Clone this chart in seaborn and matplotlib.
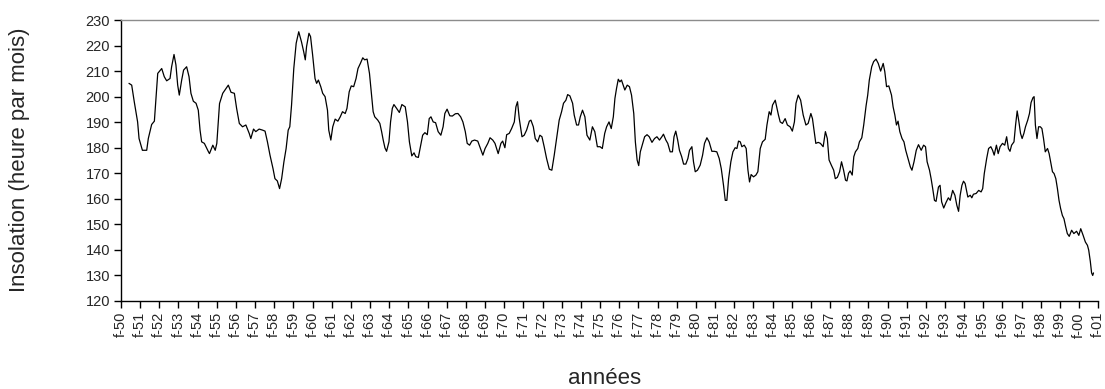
import matplotlib
matplotlib.use("Agg")
import matplotlib.pyplot as plt
import seaborn as sns
import pandas as pd

# Month offsets counted from February 1950, and the smoothed monthly sunshine (hours)
months = [
    5.0, 6.7, 8.3, 10.4, 11.3, 13.4, 16.1, 17.1, 19.2, 20.9, 23.0, 25.5, 27.1, 28.6, 30.7, 31.7,
    33.2, 34.4, 35.5, 36.5, 38.0, 39.2, 41.1, 42.6, 43.8, 45.3, 47.0, 48.4, 49.5, 50.5, 52.2, 53.6,
    54.7, 55.4, 57.5, 59.0, 60.0, 61.7, 63.7, 65.8, 67.2, 68.9, 71.0, 72.4, 74.1, 76.1, 78.2, 80.3,
    81.3, 83.0, 84.4, 86.5, 88.6, 90.2, 91.7, 93.3, 95.2, 96.4, 97.9, 99.3, 100.6, 102.0, 103.4, 104.7,
    105.7, 106.8, 108.2, 109.7, 111.3, 113.0, 114.4, 115.4, 116.2, 117.7, 118.7, 120.0, 121.5, 122.5,
    123.6, 125.1, 126.3, 127.8, 129.3, 130.1, 131.4, 132.6, 134.1, 135.8, 137.3, 138.7, 140.4, 141.5,
    142.9, 144.2, 145.7, 147.2, 148.4, 149.9, 151.4, 152.6, 154.1, 155.6, 156.8, 157.9, 158.9, 160.8,
    162.1, 163.2, 164.2, 165.3, 166.3, 167.8, 168.8, 169.9, 170.9, 172.6, 174.3, 175.9, 178.0, 179.4,
    180.6, 182.1, 183.5, 184.6, 186.2, 187.7, 188.9, 190.3, 191.8, 193.0, 194.1, 195.5, 197.0, 198.6,
    200.3, 201.7, 202.8, 204.2, 205.9, 207.5, 209.4, 211.0, 212.7, 214.1, 215.6, 216.8, 218.3, 219.7,
    221.4, 223.4, 225.1, 226.6, 228.0, 229.7, 231.1, 232.8, 234.2, 236.2, 237.9, 239.0, 240.4, 241.5,
    243.1, 244.6, 246.3, 247.3, 248.3, 249.4, 251.1, 252.5, 254.0, 255.7, 256.7, 258.2, 259.4, 260.9,
    262.3, 263.6, 265.0, 266.5, 268.2, 269.8, 271.3, 272.8, 274.4, 275.9, 277.1, 278.6, 279.7, 281.1,
    282.8, 283.8, 285.3, 286.5, 287.6, 289.0, 290.5, 291.8, 293.6, 295.2, 296.7, 298.3, 300.0, 301.4,
    302.9, 304.1, 305.6, 307.0, 308.3, 309.3, 310.3, 311.4, 312.4, 313.4, 314.5, 315.5, 317.0, 318.4,
    319.7, 321.1, 322.1, 323.2, 324.2, 325.2, 326.7, 327.9, 329.4, 330.8, 332.5, 334.1, 335.6, 337.2,
    338.7, 339.7, 341.2, 342.4, 343.9, 345.3, 346.3, 347.4, 348.6, 349.7, 351.1, 352.3, 353.7, 355.0,
    356.0, 357.5, 358.5, 359.6, 361.0, 362.7, 364.2, 365.4, 366.9, 368.3, 370.0, 371.5, 373.1, 374.6,
    375.9, 377.3, 378.4, 379.4, 380.5, 381.9, 383.2, 384.6, 385.7, 386.7, 387.8, 388.8, 390.3, 391.5,
    392.6, 393.6, 394.6, 396.1, 397.6, 398.8, 400.3, 401.7, 403.4, 404.5, 405.9, 407.0, 408.0, 409.7,
    411.7, 412.8, 414.2, 415.9, 417.3, 419.0, 420.4, 421.7, 422.7, 424.1, 425.6, 427.2, 428.9, 430.3,
    432.0, 433.0, 434.1, 435.1, 436.6, 438.0, 439.7, 441.1, 442.3, 443.4, 444.8, 446.3, 447.3, 448.6,
    450.0, 451.2, 452.5, 453.7, 454.6, 455.6, 456.6, 457.9, 458.9, 459.9, 461.4, 462.4, 463.9, 465.1,
    466.6, 467.6, 468.6, 470.1, 471.3, 472.8, 474.2, 475.7, 477.3, 478.3, 479.4, 480.8, 482.5, 483.5,
    484.6, 485.6, 486.6, 487.7, 489.1, 490.3, 491.4, 492.8, 494.3, 495.3, 496.6, 498.0, 499.4, 501.1,
    502.6, 503.8, 504.8, 506.3, 507.3, 508.3, 509.4, 510.4, 511.9, 512.9, 513.9, 515.2, 516.6, 518.1,
    519.3, 520.8, 522.2, 523.4, 524.5, 525.5, 526.6, 527.6, 528.6, 530.3, 531.8, 532.8, 533.8, 535.5,
    537.1, 538.6, 539.6, 540.6, 542.1, 543.3, 544.7, 545.8, 546.8, 548.2, 549.3, 550.5, 552.0, 553.4,
    554.6, 555.7, 556.7, 557.7, 559.2, 560.2, 561.2, 562.3, 563.3, 564.3, 565.4, 566.4, 567.8, 568.9,
    569.9, 571.1, 571.8, 572.6, 573.6, 574.6, 575.7, 576.7, 577.7, 578.8, 580.2, 581.2, 582.3, 583.3,
    584.3, 585.4, 586.4, 587.4, 588.4, 589.5, 590.5, 591.6, 592.6, 593.8, 595.3, 596.7, 598.4, 599.8,
    601.0, 602.5, 603.9, 605.2, 606.0, 607.0, 607.8, 608.5, 609.0,
]
insolation = [
    205.2, 204.5, 198.0, 190.1, 183.6, 179.0, 179.0, 183.6, 189.1, 190.4, 209.1, 211.0, 207.8, 206.2, 207.1, 211.7,
    216.5, 212.4, 204.5, 200.6, 206.5, 210.4, 211.7, 207.8, 201.3, 198.2, 197.4, 194.7, 186.9, 182.3, 181.7, 179.9,
    178.5, 177.7, 181.0, 179.0, 181.7, 197.3, 201.3, 203.2, 204.5, 201.7, 201.3, 195.4, 189.5, 188.2, 188.9, 185.6,
    183.6, 187.3, 186.3, 187.3, 186.9, 186.5, 182.3, 177.1, 171.8, 167.9, 167.0, 164.0, 167.9, 174.4, 179.7, 186.9,
    188.2, 196.7, 211.0, 220.9, 225.4, 221.5, 217.6, 214.4, 219.6, 224.8, 223.5, 216.3, 207.1, 205.2,
    206.5, 203.9, 201.3, 200.0, 194.7, 186.9, 183.0, 188.2, 191.2, 190.4, 192.1, 194.1, 193.4, 195.4,
    201.9, 204.2, 203.9, 207.1, 211.0, 213.0, 215.2, 214.4, 214.7, 209.1, 201.3, 194.1, 192.1, 190.8,
    189.5, 186.3, 183.0, 179.9, 178.6, 182.3, 190.1, 195.4, 196.9, 195.4, 193.8, 196.9, 196.0, 190.1,
    182.3, 176.8, 178.0, 176.5, 176.2, 181.0, 184.9, 185.9, 185.1, 191.4, 192.1, 190.1, 189.8, 186.3,
    184.9, 188.2, 193.4, 195.1, 192.5, 192.4, 193.3, 193.4, 192.1, 190.1, 186.3, 181.7, 181.0, 182.6,
    183.0, 182.6, 179.7, 177.1, 179.7, 181.7, 183.9, 183.0, 181.7, 177.7, 181.7, 182.6, 180.0, 185.1,
    185.6, 187.5, 190.1, 196.0, 198.0, 191.4, 184.3, 184.9, 186.9, 190.4, 190.8, 188.2, 183.6, 182.3,
    184.9, 184.3, 180.4, 175.8, 171.6, 171.2, 177.1, 183.6, 190.8, 194.1, 197.4, 198.6, 200.8, 200.3,
    197.4, 192.8, 188.9, 188.9, 192.1, 194.7, 192.1, 184.9, 183.0, 188.2, 186.3, 180.4, 180.4, 179.7,
    185.6, 188.2, 190.1, 187.5, 192.1, 199.3, 203.2, 206.8, 205.8, 206.5, 204.5, 202.6, 204.5, 203.9,
    200.6, 193.4, 182.3, 175.2, 173.0, 178.4, 181.7, 184.3, 185.1, 184.3, 182.1, 183.6, 184.3, 183.0,
    184.3, 185.3, 183.0, 181.7, 178.4, 178.4, 184.3, 186.5, 183.0, 179.0, 176.5, 173.6, 173.6, 175.8,
    179.0, 180.4, 174.5, 170.6, 171.2, 173.2, 177.1, 181.7, 183.9, 182.3, 178.6, 178.6, 178.4, 175.8,
    171.8, 165.3, 159.4, 159.4, 167.9, 174.5, 178.4, 180.0, 179.7, 182.6, 182.3, 180.4, 181.0, 179.7,
    171.2, 166.6, 169.5, 168.6, 169.3, 170.6, 179.7, 182.3, 183.3, 188.9, 194.1, 192.8, 196.7, 198.6,
    192.8, 190.1, 189.5, 191.4, 188.9, 188.2, 186.5, 190.1, 197.4, 200.6, 198.6, 192.8, 188.9, 189.5,
    193.4, 191.4, 186.3, 181.7, 182.1, 181.7, 180.4, 186.3, 183.6, 175.2, 173.2, 171.2, 167.9, 168.4,
    170.6, 174.5, 171.2, 167.3, 167.0, 170.0, 170.9, 169.3, 176.5, 178.4, 179.7, 182.3, 183.9, 188.9,
    196.5, 200.6, 206.5, 211.7, 213.7, 214.7, 213.0, 210.0, 213.0, 209.8, 203.9, 204.2, 200.6, 196.0,
    192.8, 188.9, 190.4, 186.3, 183.6, 182.3, 179.0, 175.8, 172.5, 171.2, 174.5, 179.0, 181.2, 179.0,
    181.0, 180.4, 174.5, 171.2, 167.9, 164.0, 159.4, 159.0, 164.6, 165.3, 158.8, 156.4, 158.5, 160.4,
    159.4, 163.3, 161.4, 157.5, 155.1, 161.4, 165.3, 166.9, 166.0, 160.7, 161.4, 160.4, 161.8, 162.1,
    163.3, 162.7, 164.0, 169.9, 175.8, 179.7, 180.4, 179.0, 177.1, 181.0, 177.7, 180.4, 181.7, 181.0,
    184.3, 179.7, 178.6, 181.0, 182.3, 188.9, 194.4, 190.1, 185.6, 183.6, 185.6, 188.2, 190.8, 193.4,
    197.7, 199.6, 200.0, 188.9, 183.6, 188.2, 188.2, 187.5, 183.6, 178.4, 179.7, 177.7, 173.9, 170.6,
    169.9, 167.9, 164.0, 159.4, 156.2, 153.5, 152.2, 149.0, 146.4, 145.3, 147.7, 146.4, 147.3, 145.7,
    148.3, 145.7, 143.1, 141.8, 139.9, 135.5, 131.0, 130.0, 131.0,
]

# One labelled tick per year, each at February
tick_years = list(range(1950, 2002))
tick_labels = ["f-%02d" % (y % 100) for y in tick_years]
tick_months = [12 * (y - 1950) for y in tick_years]

y_ticks = list(range(120, 231, 10))

df = pd.DataFrame({"mois": months, "insolation": insolation})

sns.set_style("ticks")
plt.rcParams["font.family"] = ["Liberation Sans", "DejaVu Sans"]

fig = plt.figure(figsize=(11.05, 3.89), dpi=100)
ax = fig.add_axes([121 / 1105, 1 - 301 / 389, (1098.3 - 121) / 1105, (301 - 20) / 389])

sns.lineplot(data=df, x="mois", y="insolation", ax=ax, color="black",
             linewidth=0.9, sort=False, estimator=None)

ax.set_xlim(0, 609.2)
ax.set_ylim(120, 230)
ax.set_yticks(y_ticks)
ax.set_xticks(tick_months)
ax.set_xticklabels(tick_labels, rotation=90, fontsize=10.5)
ax.tick_params(axis="y", labelsize=10.5)
ax.tick_params(axis="both", direction="out", length=5, width=1, color="black", pad=3)
ax.set_xlabel("")
ax.set_ylabel("")

for side in ("left", "bottom"):
    ax.spines[side].set_color("black")
    ax.spines[side].set_linewidth(1)
ax.spines["right"].set_visible(False)
ax.spines["top"].set_color("#8c8c8c")
ax.spines["top"].set_linewidth(1)

fig.text(20 / 1105, 1 - 160 / 389, "Insolation (heure par mois)", rotation=90,
         ha="center", va="center", fontsize=16)
fig.text(605 / 1105, 1 - 378 / 389, "années", ha="center", va="center", fontsize=16)

fig.savefig("out.png", dpi=100, facecolor="white")
